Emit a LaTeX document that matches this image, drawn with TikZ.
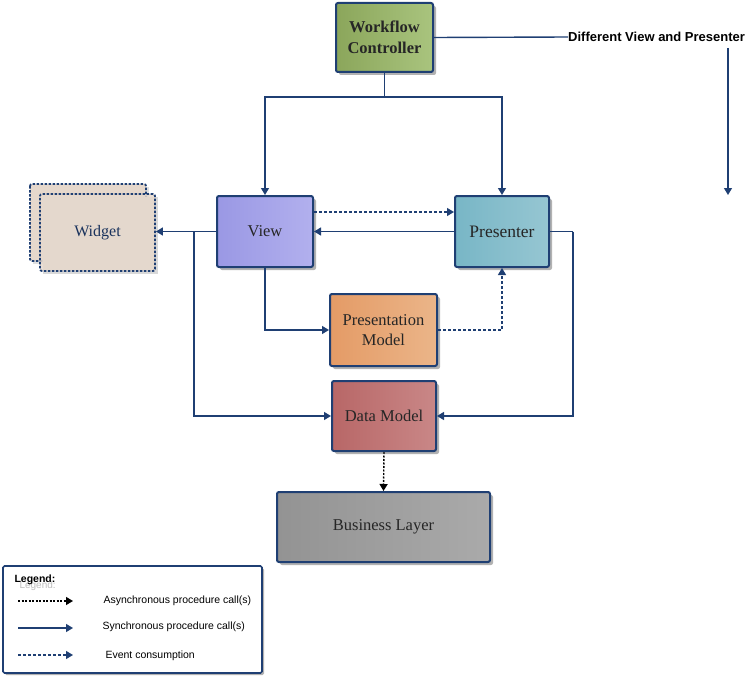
\documentclass[tikz,border=0pt]{standalone}
\usepackage{fontspec}
\setmainfont{Liberation Serif}
\setsansfont{Liberation Sans}
\usetikzlibrary{arrows.meta,shadows}
\definecolor{edge}{HTML}{1F3F73}
\definecolor{wgt}{HTML}{E6D8CC}
\definecolor{wfcA}{HTML}{8BA65B}\definecolor{wfcB}{HTML}{A9C47E}
\definecolor{viewA}{HTML}{9A98E4}\definecolor{viewB}{HTML}{B2B0EE}
\definecolor{presA}{HTML}{78B6C6}\definecolor{presB}{HTML}{96C6D2}
\definecolor{pmA}{HTML}{E49B66}\definecolor{pmB}{HTML}{EBB589}
\definecolor{dmA}{HTML}{B86767}\definecolor{dmB}{HTML}{C98787}
\definecolor{blA}{HTML}{939393}\definecolor{blB}{HTML}{AAAAAA}
\begin{document}
\begin{tikzpicture}[x=1pt,y=-1pt,
  box/.style={draw=edge, line width=2pt, rounded corners=2pt, align=center,
    inner sep=0pt, text=black!85, font=\fontsize{16.5}{20}\selectfont,
    drop shadow={shadow xshift=3pt,shadow yshift=-3pt,opacity=.3,fill=black}},
  sync/.style={draw=edge, line width=1.4pt, -{Triangle[width=8pt,length=7pt]}},
  event/.style={sync, dash pattern=on 3pt off 2pt},
  async/.style={draw=black, line width=1.4pt, dash pattern=on 2pt off 1.5pt,
    -{Triangle[width=8pt,length=7pt]}},
  legtext/.style={anchor=west, font=\sffamily\fontsize{10.5}{12}\selectfont}]
\useasboundingbox (0,0) rectangle (748,677);
%\draw[very thin, gray] (0,0) grid[step=50] (748,677);
\node[box, left color=wfcA, right color=wfcB,
  minimum width=97pt, minimum height=69pt,
  font=\bfseries\fontsize{16.5}{21}\selectfont] (wfc) at (384.5,37.5) {Workflow\\Controller};
\node[box, left color=viewA, right color=viewB,
  minimum width=96pt, minimum height=71pt] (view) at (265,231.5) {View};
\node[box, left color=presA, right color=presB,
  minimum width=94pt, minimum height=71pt, font=\fontsize{17.5}{20}\selectfont] (pres) at (502,231.5) {Presenter};
\node[box, left color=pmA, right color=pmB,
  minimum width=107pt, minimum height=72pt] (pm) at (383.5,330) {Presentation\\Model};
\node[box, left color=dmA, right color=dmB,
  minimum width=104pt, minimum height=70pt] (dm) at (384,416) {Data Model};
\node[box, left color=blA, right color=blB,
  minimum width=213pt, minimum height=70pt] (bl) at (383.5,527) {Business Layer};
% widget, two stacked sheets
\fill[black!12] (33,187) rectangle (149,264);
\draw[edge, fill=wgt, line width=1.8pt, dash pattern=on 2.5pt off 1.5pt, rounded corners=2pt]
  (30,184) rectangle (146,261);
\fill[black!15] (43,197) rectangle (158,274);
\node[draw=edge, fill=wgt, fill opacity=.85, text opacity=1, line width=1.8pt,
  dash pattern=on 2.5pt off 1.5pt, rounded corners=2pt, text=edge!80!black,
  minimum width=115pt, minimum height=77pt, font=\fontsize{16}{19}\selectfont]
  (wid) at (97.5,232.5) {Widget};
% right hand note
\node[anchor=west, inner sep=0pt, font=\sffamily\bfseries\fontsize{13}{15}\selectfont]
  (dvp) at (568,37) {Different View and Presenter};
\coordinate (dvend) at (728,195);
\draw[edge, line width=1.4pt] (wfc.east) -- (dvp.west);
\draw[sync] ([yshift=-6pt]dvend |- dvp.south) -- (dvend);
% connectors
\coordinate (split) at (384.5,97);
\draw[edge, line width=1.4pt] (wfc.south) -- (split);
\draw[sync] (split) -| (view.north);
\draw[sync] (split) -| (pres.north);
\draw[sync] (view.west) -- (view.west -| wid.east);
\coordinate (tap) at (194,231.5);
\draw[sync] (tap) |- (dm.west);
\draw[sync] (view.south) |- (pm.west);
\draw[event] ([yshift=19.5pt]view.east) -- ([yshift=19.5pt]pres.west);
\draw[sync] (pres.west) -- (view.east);
\coordinate (rside) at (573,231.5);
\draw[edge, line width=1.4pt] (pres.east) -- (rside);
\draw[sync] (rside) |- (dm.east);
\draw[event] (pm.east) -| (pres.south);
\draw[async] (dm.south) -- (bl.north);
% legend
\node[draw=edge, line width=1.6pt, rounded corners=1.5pt, fill=white,
  minimum width=259pt, minimum height=107pt,
  drop shadow={shadow xshift=2pt,shadow yshift=-2pt,opacity=.3,fill=black}] (leg) at (132.5,619.5) {};
\node[anchor=west, text=black!25, font=\sffamily\fontsize{10}{12}\selectfont] at (16,586) {Legend:};
\node[anchor=west, font=\sffamily\bfseries\fontsize{10.5}{12}\selectfont] (legt) at (11,580) {Legend:};
\coordinate (la1) at (18,601); \coordinate (lb1) at (73,601);
\coordinate (la2) at (18,628); \coordinate (lb2) at (73,628);
\coordinate (la3) at (18,655); \coordinate (lb3) at (73,655);
\draw[async] (la1) -- (lb1);
\draw[sync] (la2) -- (lb2);
\draw[event] (la3) -- (lb3);
\node[legtext] (lt1) at (100,601) {Asynchronous procedure call(s)};
\node[legtext] (lt2) at (99,627) {Synchronous procedure call(s)};
\node[legtext] (lt3) at (102,656) {Event consumption};
\end{tikzpicture}
\end{document}
